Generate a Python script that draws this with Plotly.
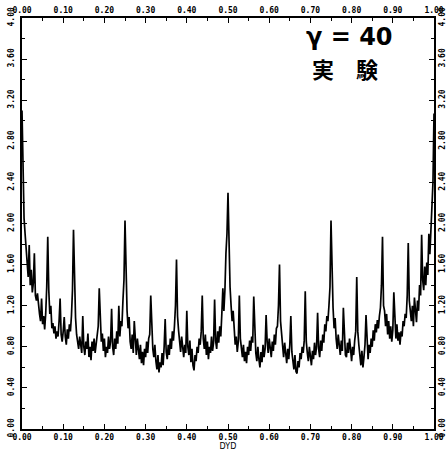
import plotly.graph_objects as go

# Sampled ratio values on DYD axis (uniform 0..1, 401 samples)
N_POINTS = 401
dyd = [i / (N_POINTS - 1) for i in range(N_POINTS)]

amp = [
    # 0.000 - 0.060
    3.10, 2.45, 2.05, 1.90, 1.72, 1.60, 1.48, 1.79, 1.40, 1.55,
    1.33, 1.42, 1.71, 1.30, 1.25, 1.32, 1.18, 1.12, 1.05, 1.27,
    1.02, 1.10, 0.97, 1.12, 1.38,
    # 0.0625 - 0.1225
    1.87, 1.35, 1.12, 1.20, 0.98, 1.03, 0.93, 1.00, 0.88, 0.95,
    0.90, 1.05, 1.27, 0.92, 0.85, 0.95, 1.09, 0.90, 0.82, 0.97,
    0.88, 1.02, 0.95, 1.10, 1.35,
    # 0.125 - 0.185
    1.94, 1.30, 1.08, 0.92, 0.85, 0.78, 0.90, 0.82, 0.74, 1.10,
    0.80, 0.72, 0.85, 0.78, 0.93, 0.70, 0.80, 0.67, 0.85, 0.76,
    0.88, 0.74, 0.82, 0.90, 1.00,
    # 0.1875 - 0.2475
    1.37, 1.02, 0.85, 0.93, 0.76, 0.88, 0.70, 0.80, 0.74, 0.90,
    0.78, 0.85, 1.17, 0.80, 0.72, 0.88, 0.78, 0.95, 0.83, 1.20,
    0.90, 1.05, 1.00, 1.25, 1.45,
    # 0.25 - 0.31
    2.03, 1.40, 1.15, 0.98, 1.09, 0.85, 0.78, 0.92, 0.74, 1.05,
    0.82, 0.72, 0.88, 0.76, 0.68, 0.82, 0.64, 0.75, 0.62, 0.78,
    0.70, 0.85, 0.74, 0.88, 0.92,
    # 0.3125 - 0.3725
    1.30, 0.90, 0.78, 0.70, 0.82, 0.66, 0.58, 0.72, 0.55, 0.65,
    0.60, 0.74, 0.62, 0.80, 1.07, 0.75, 0.68, 0.82, 0.72, 0.88,
    0.78, 0.95, 0.86, 1.00, 1.20,
    # 0.375 - 0.435
    1.65, 1.10, 0.96, 0.85, 0.75, 0.90, 0.78, 0.70, 0.82, 0.74,
    1.15, 0.80, 0.72, 0.86, 0.65, 0.78, 0.62, 0.57, 0.72, 0.66,
    0.80, 0.74, 0.88, 0.82, 0.95,
    # 0.4375 - 0.4975
    1.30, 0.88, 0.78, 0.92, 0.72, 0.85, 0.68, 0.80, 0.74, 0.90,
    0.76, 0.84, 1.26, 0.86, 0.78, 0.95, 0.84, 1.00, 0.90, 1.12,
    1.37, 1.15, 1.35, 1.71, 1.90,
    # 0.50 - 0.56
    2.30, 1.75, 1.38, 1.20, 1.05, 1.15, 0.95, 0.82, 0.90, 0.75,
    0.85, 1.30, 0.88, 0.78, 0.70, 0.82, 0.66, 0.75, 0.64, 0.80,
    0.72, 0.86, 0.76, 0.90, 0.84,
    # 0.5625 - 0.6225
    1.29, 0.88, 0.74, 0.66, 0.80, 0.68, 0.60, 0.75, 0.65, 0.82,
    0.70, 0.78, 1.11, 0.85, 0.74, 0.88, 0.78, 0.70, 0.85, 0.76,
    0.92, 0.82, 0.98, 1.00, 1.20,
    # 0.625 - 0.685
    1.60, 1.05, 0.90, 0.80, 0.70, 0.84, 0.72, 0.64, 0.78, 0.68,
    0.82, 1.10, 0.75, 0.66, 0.58, 0.72, 0.56, 0.54, 0.66, 0.60,
    0.74, 0.68, 0.80, 0.74, 0.86,
    # 0.6875 - 0.7475
    1.34, 0.85, 0.74, 0.66, 0.80, 0.70, 0.62, 0.76, 0.68, 0.84,
    0.72, 0.80, 1.13, 0.78, 0.70, 0.86, 0.76, 0.92, 0.84, 1.02,
    0.95, 1.10, 1.05, 1.20, 1.38,
    # 0.75 - 0.81
    2.03, 1.40, 1.18, 0.98, 1.08, 0.88, 0.78, 0.92, 0.80, 0.72,
    0.86, 0.76, 1.18, 0.82, 0.72, 0.70, 0.84, 0.74, 0.88, 0.78,
    0.66, 0.80, 0.72, 0.86, 0.95,
    # 0.8125 - 0.8725
    1.48, 0.95, 0.82, 0.72, 0.62, 0.76, 0.60, 0.70, 0.82, 1.11,
    0.78, 0.68, 0.82, 0.74, 0.88, 0.80, 0.96, 0.86, 1.02, 0.94,
    1.06, 0.98, 1.10, 1.18, 1.40,
    # 0.875 - 0.935
    1.87, 1.20, 1.15, 1.00, 1.12, 0.92, 1.05, 0.88, 1.00, 0.85,
    0.96, 1.33, 0.98, 0.88, 1.02, 0.86, 0.94, 0.82, 0.95, 0.90,
    1.05, 1.00, 1.12, 1.08, 1.30,
    # 0.9375 - 1.000
    1.81, 1.25, 1.15, 1.05, 1.20, 1.00, 1.28, 1.10, 1.04, 1.25,
    1.15, 1.40, 1.30, 1.89, 1.45, 1.35, 1.58, 1.40, 1.62, 1.50,
    1.90, 1.70, 2.00, 2.30, 2.40, 3.07,
]

x_ticks = [0.0, 0.1, 0.2, 0.3, 0.4, 0.5, 0.6, 0.7, 0.8, 0.9, 1.0]
y_ticks = [0.0, 0.4, 0.8, 1.2, 1.6, 2.0, 2.4, 2.8, 3.2, 3.6, 4.0]
x_labels = ["%.2f" % v for v in x_ticks]
y_labels = ["%.2f" % v for v in y_ticks]

fig = go.Figure()
fig.add_trace(go.Scatter(x=dyd, y=amp, mode="lines",
                         line=dict(color="black", width=1.7),
                         showlegend=False, hoverinfo="skip"))
fig.add_trace(go.Scatter(x=[None], y=[None], xaxis="x2", yaxis="y2",
                         mode="lines", showlegend=False))

tickfont = dict(family="DejaVu Sans Mono", size=8, color="black", weight="bold")
common_x = dict(range=[0, 1], tickvals=x_ticks, ticktext=x_labels,
                ticks="inside", ticklen=5, tickwidth=1, tickcolor="black",
                minor=dict(ticks="inside", ticklen=3, dtick=0.05, tick0=0, tickcolor="black"),
                showline=True, linecolor="black", linewidth=1.5,
                showgrid=False, zeroline=False, tickfont=tickfont,
                automargin=False)
common_y = dict(range=[0, 4], tickvals=y_ticks, ticktext=y_labels,
                ticks="inside", ticklen=5, tickwidth=1, tickcolor="black",
                minor=dict(ticks="inside", ticklen=3, dtick=0.2, tick0=0, tickcolor="black"),
                showline=True, linecolor="black", linewidth=1.5,
                showgrid=False, zeroline=False, tickfont=tickfont, tickangle=-90,
                automargin=False)

fig.update_layout(
    width=448, height=453,
    margin=dict(l=22, r=14, t=18, b=24),
    paper_bgcolor="white", plot_bgcolor="white",
    xaxis=dict(**common_x, title=dict(text="DYD", standoff=0,
               font=dict(family="DejaVu Sans", size=8, color="black"))),
    xaxis2=dict(**common_x, overlaying="x", side="top", anchor="y"),
    yaxis=dict(**common_y, ticklabelstandoff=3),
    yaxis2=dict(**common_y, overlaying="y", side="right", anchor="x",
                ticklabelstandoff=0),
    annotations=[
        dict(text="γ = 40", x=0.796, y=3.82, xref="x", yref="y",
             showarrow=False, xanchor="center", yanchor="middle",
             font=dict(family="DejaVu Sans", size=24, color="black", weight="bold")),
        dict(text="実　験", x=0.784, y=3.51, xref="x", yref="y",
             showarrow=False, xanchor="center", yanchor="middle",
             font=dict(family="Noto Sans CJK JP", size=22, color="black", weight="bold")),
    ],
)

fig.write_html("out.html", config={"displayModeBar": False},
               post_script="document.body.style.margin='0';document.body.style.overflow='hidden';")
